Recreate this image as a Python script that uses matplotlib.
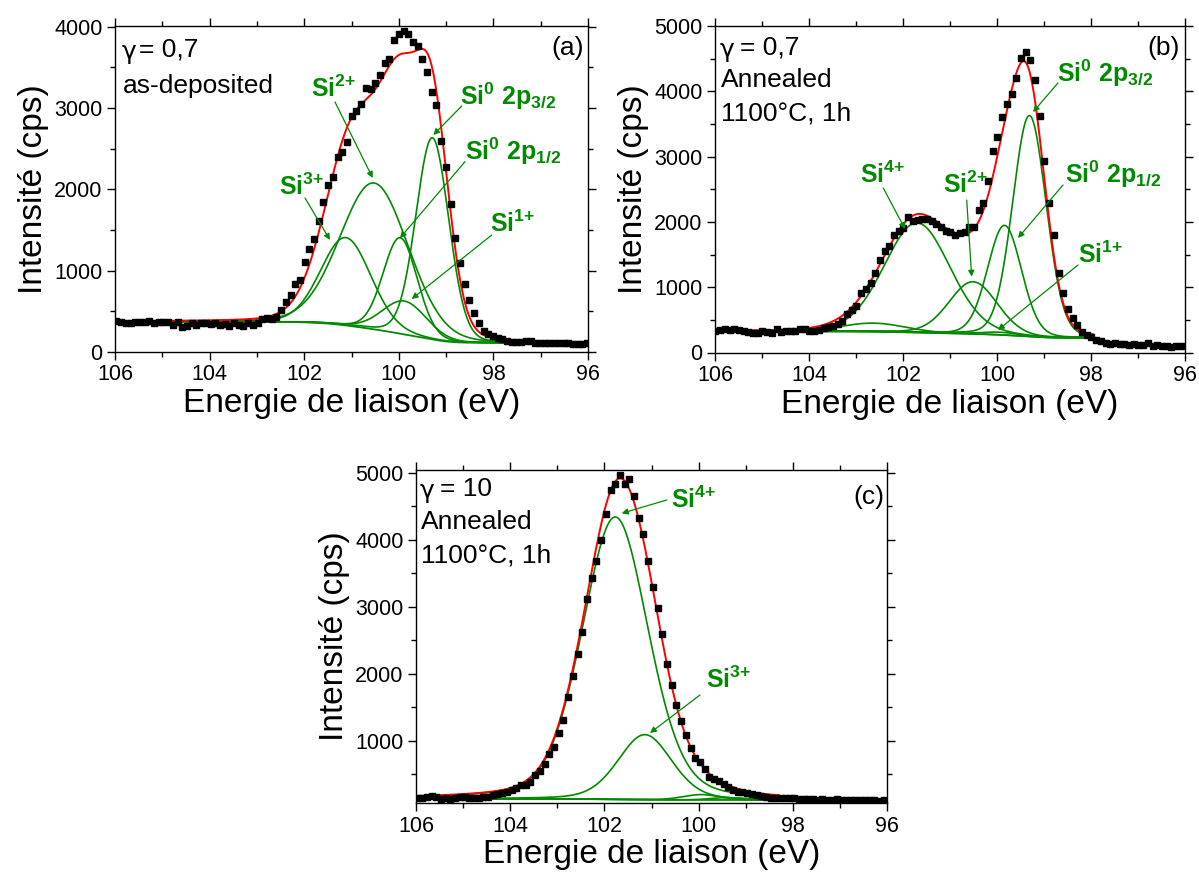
import numpy as np
import matplotlib
matplotlib.use("Agg")
import matplotlib.pyplot as plt
from matplotlib.patches import FancyArrowPatch
from matplotlib.ticker import MultipleLocator

plt.rcParams['font.family'] = ['Liberation Sans', 'DejaVu Sans']
plt.rcParams['mathtext.fontset'] = 'custom'
plt.rcParams['mathtext.rm'] = 'Liberation Sans'
plt.rcParams['mathtext.bf'] = 'Liberation Sans:bold'
plt.rcParams['mathtext.it'] = 'Liberation Sans:italic'

# ---------------- data ----------------
# Panel (a): gamma = 0.7, as-deposited
A_E_FIRST, A_E_LAST = 105.97, 96.02
A_COUNTS = [386, 365, 361, 361, 369, 369, 365, 386, 353, 365, 369, 369, 336, 369, 304,
            324, 361, 328, 353, 353, 341, 353, 328, 341, 320, 353, 328, 316, 353, 328,
            353, 410, 423, 410, 431, 517, 619, 697, 841, 886, 1112,
            1268, 1395, 1616, 1842, 2055, 2158, 2396, 2462, 2585, 2909, 2970, 3048, 3249,
            3241, 3315, 3413, 3553, 3606, 3832, 3910, 3951,
            3914, 3815, 3758, 3602, 3442, 3196, 3040, 2597, 2281, 1817, 1399, 1091, 837,
            640, 476, 361, 263, 222, 197, 168, 156, 140, 123, 123, 123, 131, 140, 115,
            115, 107, 115, 107, 115, 107, 107, 98, 98, 98, 115]
A_PEAK_NAMES = ['Si3+', 'Si2+', 'Si0 2p3/2', 'Si0 2p1/2', 'Si1+']
A_PEAK_CENTER = [101.12, 100.52, 99.29, 99.97, 99.88]
A_PEAK_HEIGHT = [1080, 1800, 2480, 1180, 410]
A_PEAK_FWHM = [1.25, 1.70, 0.82, 0.85, 1.10]
A_ETA = 0.1
A_BG_HIGH, A_BG_LOW = 372, 112
A_FIT_RANGE = (106.0, 97.65)

# Panel (b): gamma = 0.7, annealed 1100 C 1h
B_E_FIRST, B_E_LAST = 105.99, 96.09
B_COUNTS = [333, 348, 358, 343, 358, 343, 333, 317, 297, 292, 328, 307, 297, 353, 307,
            323, 323, 323, 353, 353, 333, 333, 348, 374, 384, 404, 430, 476, 589,
            645, 717, 911, 978, 1070, 1224, 1423, 1557, 1633, 1797, 1859, 1900, 2079,
            2017, 2028, 2048, 2038, 2012, 1966, 1925, 1864, 1838, 1797, 1833, 1838, 1915,
            1925, 2181, 2294, 2632, 3082, 3303, 3600, 3809,
            3963, 4204, 4511, 4603, 4485, 4168, 3615, 2939, 2284, 1797, 1224, 911, 671,
            527, 415, 312, 261, 236, 195, 174, 143, 123, 143, 133, 133, 113, 123, 113,
            113, 143, 92, 113, 102, 92, 82, 102, 102]
B_PEAK_NAMES = ['Si3+', 'Si4+', 'Si2+', 'Si0 2p1/2', 'Si0 2p3/2', 'Si1+']
B_PEAK_CENTER = [102.63, 101.70, 100.51, 99.84, 99.31, 99.95]
B_PEAK_HEIGHT = [130, 1680, 800, 1680, 3385, 40]
B_PEAK_FWHM = [1.60, 1.65, 1.20, 0.85, 0.84, 1.00]
B_ETA = 0.1
B_BG_HIGH, B_BG_LOW = 325, 225
B_FIT_RANGE = (106.0, 97.95)

# Panel (c): gamma = 10, annealed 1100 C 1h
C_E_FIRST, C_E_LAST = 105.97, 96.07
C_COUNTS = [156, 156, 161, 176, 161, 141, 156, 141, 151, 171, 171, 156, 151, 156, 166,
            171, 196, 206,
            221, 246, 271, 306, 336, 346, 386, 496, 555, 655, 805, 905, 1114, 1319, 1653,
            1973, 2302, 2626, 3115, 3430, 3689, 3999, 4388, 4747, 4827, 4961, 4827, 4912,
            4650, 4323, 4088, 3689, 3300, 2981, 2601, 2152, 1833, 1533, 1304, 1084, 895, 740,
            680, 585, 470, 436, 406, 360, 321, 271, 246, 236, 221, 206, 196, 181, 171,
            156, 146, 156, 146, 156, 146, 136, 141, 131, 136, 126, 131, 126, 121, 131,
            121, 126, 116, 121, 116, 126, 116, 121, 111, 121]
C_PEAK_NAMES = ['Si4+', 'Si3+', 'Si2+', 'Si0']
C_PEAK_CENTER = [101.77, 101.14, 99.95, 99.40]
C_PEAK_HEIGHT = [4210, 970, 80, 35]
C_PEAK_FWHM = [1.66, 1.35, 0.90, 0.80]
C_ETA = 0.25
C_BG_HIGH, C_BG_LOW = 136, 120
C_FIT_RANGE = (106.0, 98.3)

GREEN = '#008a00'
RED = '#ff0000'

W, H = 1199, 874
fig = plt.figure(figsize=(W / 100, H / 100), dpi=100)


def fpos(x, y):
    return (x / W, 1 - y / H)


def pv(e, c, h, fwhm, eta):
    x = (e - c) / (fwhm / 2.0)
    return h * ((1 - eta) * np.exp(-np.log(2) * x ** 2) + eta / (1 + x ** 2))


def shirley(comps, hi, lo):
    s = np.sum(comps, axis=0)
    cum = np.cumsum(s[::-1])[::-1]
    return lo + (hi - lo) * cum / cum[0]


def make_axes(rect_px, ylim, ymajor):
    l, t, r, b = rect_px
    ax = fig.add_axes([l / W, 1 - b / H, (r - l) / W, (b - t) / H])
    ax.set_xlim(106, 96)
    ax.set_ylim(*ylim)
    ax.xaxis.set_major_locator(MultipleLocator(2))
    ax.xaxis.set_minor_locator(MultipleLocator(1))
    ax.yaxis.set_major_locator(MultipleLocator(ymajor))
    ax.yaxis.set_minor_locator(MultipleLocator(ymajor / 2))
    ax.tick_params(which='both', direction='out', top=True, right=True,
                   labelsize=15.5, width=1.0, pad=3)
    ax.tick_params(which='major', length=6)
    ax.tick_params(which='minor', length=3.5)
    for sp in ax.spines.values():
        sp.set_linewidth(1.0)
    ax.set_xlabel('Energie de liaison (eV)', fontsize=24, labelpad=2)
    ax.set_ylabel('Intensité (cps)', fontsize=24, labelpad=4)
    return ax


def draw_panel(ax, e_first, e_last, counts, centers, heights, fwhms, eta,
               bg_hi, bg_lo, fit_range):
    e_data = np.linspace(e_first, e_last, len(counts))
    e = np.linspace(fit_range[0], fit_range[1], 1200)
    comps = [pv(e, c, h, w, eta) for c, h, w in zip(centers, heights, fwhms)]
    bg = shirley(comps, bg_hi, bg_lo)
    ax.plot(e, bg, color=GREEN, lw=1.3, zorder=2)
    for comp in comps:
        ax.plot(e, comp + bg, color=GREEN, lw=1.2, zorder=2)
    ax.plot(e, np.sum(comps, axis=0) + bg, color=RED, lw=1.4, zorder=3)
    ax.plot(e_data, counts, ls='none', marker='s', ms=3.8, color='black',
            mec='black', zorder=4, clip_on=True)


def label(text, txy, arrow):
    fig.text(*fpos(*txy), text, color=GREEN, fontsize=18, ha='left', va='baseline')
    fig.add_artist(FancyArrowPatch(fpos(*arrow[0]), fpos(*arrow[1]),
                                   transform=fig.transFigure, arrowstyle='-|>',
                                   mutation_scale=9, color=GREEN, lw=0.9,
                                   shrinkA=0, shrinkB=0))


def ptext(txt, x, y, ha='left'):
    fig.text(*fpos(x, y), txt, fontsize=19, ha=ha, va='center', color='black')


def gtext(rest, x, y, rest_x):
    fig.text(*fpos(x, y + 2), 'γ', fontsize=18, ha='left', va='center',
             color='black', family='DejaVu Sans')
    fig.text(*fpos(rest_x, y), rest, fontsize=19, ha='left', va='center', color='black')


SI = {
    'Si4+': r'$\mathbf{Si^{4{+}}}$',
    'Si3+': r'$\mathbf{Si^{3{+}}}$',
    'Si2+': r'$\mathbf{Si^{2{+}}}$',
    'Si1+': r'$\mathbf{Si^{1{+}}}$',
    'Si0 2p3/2': r'$\mathbf{Si^{0}\ 2p_{3/2}}$',
    'Si0 2p1/2': r'$\mathbf{Si^{0}\ 2p_{1/2}}$',
}

# ---- panel (a)
axa = make_axes((115, 26, 588, 352), (0, 4010), 1000)
draw_panel(axa, A_E_FIRST, A_E_LAST, A_COUNTS, A_PEAK_CENTER, A_PEAK_HEIGHT,
           A_PEAK_FWHM, A_ETA, A_BG_HIGH, A_BG_LOW, A_FIT_RANGE)
gtext('= 0,7', 122, 50, 139)
ptext('as-deposited', 123, 86)
ptext('(a)', 584, 48, ha='right')
label(SI['Si3+'], (279, 195), ((305, 198), (330, 240)))
label(SI['Si2+'], (311, 97), ((335, 102), (372.7, 178)))
label(SI['Si0 2p3/2'], (460, 105), ((461.7, 106), (433.3, 135)))
label(SI['Si0 2p1/2'], (465, 160), ((465, 161.7), (400, 238)))
label(SI['Si1+'], (490, 232), ((491.7, 235), (411.7, 299)))

# ---- panel (b)
axb = make_axes((715, 26, 1185, 352.5), (0, 5000), 1000)
draw_panel(axb, B_E_FIRST, B_E_LAST, B_COUNTS, B_PEAK_CENTER, B_PEAK_HEIGHT,
           B_PEAK_FWHM, B_ETA, B_BG_HIGH, B_BG_LOW, B_FIT_RANGE)
gtext('= 0,7', 720, 48, 740)
ptext('Annealed', 721, 80)
ptext('1100°C, 1h', 721, 113)
ptext('(b)', 1180, 48, ha='right')
label(SI['Si4+'], (860, 183), ((883.3, 188), (905, 229)))
label(SI['Si2+'], (943, 193), ((966.7, 200), (971.7, 276.7)))
label(SI['Si0 2p3/2'], (1057, 82), ((1058, 83), (1033, 112)))
label(SI['Si0 2p1/2'], (1065, 183), ((1063, 185), (1018, 238)))
label(SI['Si1+'], (1078, 263), ((1078, 265), (998, 330)))

# ---- panel (c)
axc = make_axes((416, 470, 887, 803), (75, 5040), 1000)
draw_panel(axc, C_E_FIRST, C_E_LAST, C_COUNTS, C_PEAK_CENTER, C_PEAK_HEIGHT,
           C_PEAK_FWHM, C_ETA, C_BG_HIGH, C_BG_LOW, C_FIT_RANGE)
gtext('= 10', 420, 489, 440)
ptext('Annealed', 421, 522)
ptext('1100°C, 1h', 421, 556)
ptext('(c)', 884, 497, ha='right')
label(SI['Si4+'], (671, 508), ((666.7, 500), (621.7, 513.3)))
label(SI['Si3+'], (706, 688), ((700, 695), (650, 733)))

fig.savefig('out.png', dpi=100, facecolor='white')
